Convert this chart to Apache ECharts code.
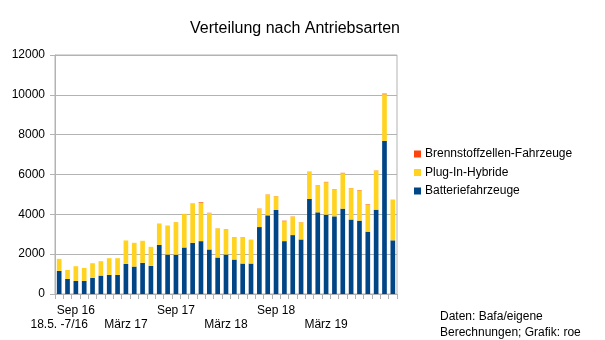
<!DOCTYPE html>
<html>
<head>
<meta charset="utf-8">
<script src="https://cdn.jsdelivr.net/npm/echarts@6/dist/echarts.min.js"></script>
<style>
html,body{margin:0;padding:0;background:#fff;}
#chart{width:605px;height:340px;}
</style>
</head>
<body>
<div id="chart"></div>
<script>
const categories = [
  "18.5. -7/16","Aug 16","Sep 16","Okt 16","Nov 16","Dez 16",
  "Jan 17","Feb 17","März 17","Apr 17","Mai 17","Jun 17","Jul 17","Aug 17","Sep 17","Okt 17","Nov 17","Dez 17",
  "Jan 18","Feb 18","März 18","Apr 18","Mai 18","Jun 18","Jul 18","Aug 18","Sep 18","Okt 18","Nov 18","Dez 18",
  "Jan 19","Feb 19","März 19","Apr 19","Mai 19","Jun 19","Jul 19","Aug 19","Sep 19","Okt 19","Nov 19"
];
const batterie = [
  1160,756,655,655,807,924,
  958,958,1512,1378,1563,1411,2465,1982,1975,2335,2570,2654,
  2235,1831,1982,1730,1529,1529,3361,3950,4218,2654,2958,2739,
  4773,4101,3983,3899,4286,3740,3683,3130,4235,7684,2695
];
const plugin = [
  605,454,740,655,739,723,
  840,840,1177,1193,1108,958,1065,1445,1630,1680,1966,1936,
  1831,1462,1277,1126,1327,1193,924,1040,689,1000,924,857,
  1361,1324,1627,1361,1778,1569,1520,1370,1959,2347,2026
];
const brennstoff = [
  0,0,0,0,0,0,
  0,0,0,0,0,0,5,5,5,5,10,30,
  10,5,5,5,5,5,10,10,10,26,10,10,
  10,20,20,10,20,10,20,20,10,30,10
];
const yTicks = {min:0, max:12000, interval:2000};
const upperLabels = ["Sep 16","Sep 17","Sep 18"];
const lowerLabels = ["18.5. -7/16","März 17","März 18","März 19"];
const seriesNames = ["Batteriefahrzeuge","Plug-In-Hybride","Brennstoffzellen-Fahrzeuge"];
const colors = ["#004586","#ffd320","#ff420e"];
const footnote = ["Daten: Bafa/eigene","Berechnungen; Grafik: roe"];

const FONT = "Liberation Sans";
const chart = echarts.init(document.getElementById('chart'), null, {renderer:'canvas'});
const dataArrays = [batterie, plugin, brennstoff];
chart.setOption({
  animation:false,
  backgroundColor:'#fff',
  textStyle:{fontFamily:FONT},
  title:{
    text:"Verteilung nach Antriebsarten",
    left:290, top:16, textAlign:'center',
    textStyle:{fontFamily:FONT,fontSize:16,fontWeight:'normal',color:'#000'}
  },
  legend:{
    orient:'vertical',
    left:409, top:142,
    itemWidth:7, itemHeight:7, itemGap:4.5,
    icon:'rect',
    data:[seriesNames[2],seriesNames[1],seriesNames[0]],
    textStyle:{fontFamily:FONT,fontSize:12,color:'#000',lineHeight:14,padding:[0,0,0,-1]}
  },
  grid:{
    left:55, right:208, top:55, bottom:46,
    show:true, borderColor:'#b3b3b3', borderWidth:1
  },
  xAxis:{
    type:'category',
    data:categories,
    boundaryGap:true,
    axisLine:{show:true,lineStyle:{color:'#b3b3b3',width:1}},
    axisTick:{show:true,interval:0,length:5,lineStyle:{color:'#b3b3b3'}},
    axisLabel:{
      interval:0, margin:10,
      fontFamily:FONT, fontSize:12, color:'#000', lineHeight:14,
      formatter:function(v){
        if(upperLabels.indexOf(v)>=0) return v;
        if(lowerLabels.indexOf(v)>=0) return '\n'+v;
        return '';
      }
    },
    splitLine:{show:false}
  },
  yAxis:{
    type:'value',
    min:yTicks.min, max:yTicks.max, interval:yTicks.interval,
    axisLine:{show:true,lineStyle:{color:'#b3b3b3'}},
    axisTick:{show:true,length:5,lineStyle:{color:'#b3b3b3'}},
    axisLabel:{fontFamily:FONT,fontSize:12,color:'#000',margin:10,formatter:function(v){return String(v);}},
    splitLine:{show:true,lineStyle:{color:'#b3b3b3',width:1}}
  },
  series: seriesNames.map((n,i)=>({
    name:n, type:'bar', stack:'total',
    data:dataArrays[i],
    barWidth:'56%',
    itemStyle:{color:colors[i]}
  })),
  graphic:[
    {type:'text',left:440,top:311,style:{text:footnote[0],font:'12px "Liberation Sans"',fill:'#000'}},
    {type:'text',left:440,top:327,style:{text:footnote[1],font:'12px "Liberation Sans"',fill:'#000'}}
  ]
});
</script>
</body>
</html>
